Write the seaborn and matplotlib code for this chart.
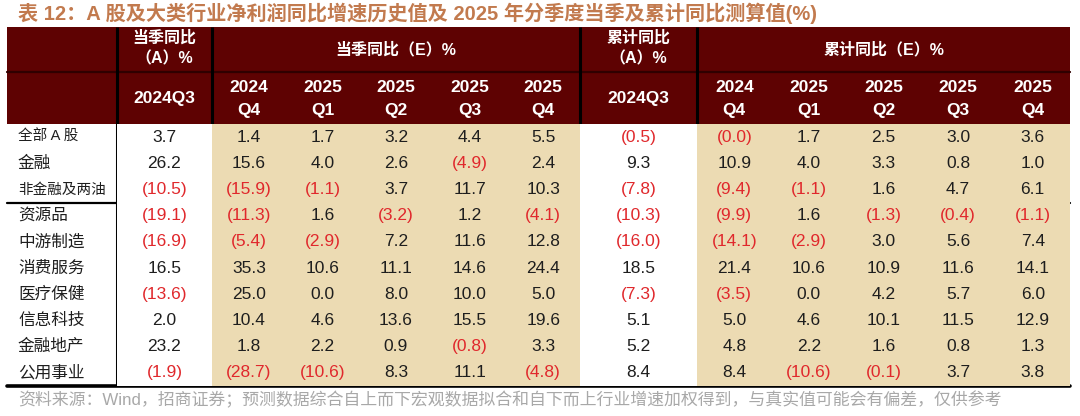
import numpy as np
import matplotlib
matplotlib.use("Agg")
import matplotlib.pyplot as plt
from matplotlib.colors import ListedColormap
from matplotlib.patches import Rectangle
import seaborn as sns

# ---- data ----
rows = ['全部 A 股', '金融', '非金融及两油', '资源品', '中游制造', '消费服务',
        '医疗保健', '信息科技', '金融地产', '公用事业']
quarters = [('2024', 'Q4'), ('2025', 'Q1'), ('2025', 'Q2'), ('2025', 'Q3'), ('2025', 'Q4')]

cur_a = [3.7, 26.2, -10.5, -19.1, -16.9, 16.5, -13.6, 2.0, 23.2, -1.9]
cur_e = [[1.4, 1.7, 3.2, 4.4, 5.5],
         [15.6, 4.0, 2.6, -4.9, 2.4],
         [-15.9, -1.1, 3.7, 11.7, 10.3],
         [-11.3, 1.6, -3.2, 1.2, -4.1],
         [-5.4, -2.9, 7.2, 11.6, 12.8],
         [35.3, 10.6, 11.1, 14.6, 24.4],
         [25.0, 0.0, 8.0, 10.0, 5.0],
         [10.4, 4.6, 13.6, 15.5, 19.6],
         [1.8, 2.2, 0.9, -0.8, 3.3],
         [-28.7, -10.6, 8.3, 11.1, -4.8]]
cum_a = [-0.5, 9.3, -7.8, -10.3, -16.0, 18.5, -7.3, 5.1, 5.2, 8.4]
cum_e = [[-0.0, 1.7, 2.5, 3.0, 3.6],
         [10.9, 4.0, 3.3, 0.8, 1.0],
         [-9.4, -1.1, 1.6, 4.7, 6.1],
         [-9.9, 1.6, -1.3, -0.4, -1.1],
         [-14.1, -2.9, 3.0, 5.6, 7.4],
         [21.4, 10.6, 10.9, 11.6, 14.1],
         [-3.5, 0.0, 4.2, 5.7, 6.0],
         [5.0, 4.6, 10.1, 11.5, 12.9],
         [4.8, 2.2, 1.6, 0.8, 1.3],
         [8.4, -10.6, -0.1, 3.7, 3.8]]

title = '表 12：A 股及大类行业净利润同比增速历史值及 2025 年分季度当季及累计同比测算值(%)'
source = '资料来源：Wind，招商证券；预测数据综合自上而下宏观数据拟合和自下而上行业增速加权得到，与真实值可能会有偏差，仅供参考'

# ---- style ----
sns.set_style('white')
plt.rcParams['font.family'] = ['Liberation Sans', 'Noto Sans CJK SC', 'DejaVu Sans']

MAROON = '#5E0202'
BEIGE = '#ECDBB3'
RED = '#E0282C'
DARK = '#1E1E1E'

W, H = 1080, 416
fig = plt.figure(figsize=(W / 100, H / 100), dpi=100)
fig.patch.set_facecolor('white')

# layout in pixels
L, R = 7, 1070
top, hmid, hbot, bot = 27, 72, 124, 386
xa1, xe1, xa2, xe2 = 117, 212, 580, 697

bg = fig.add_axes([0, 0, 1, 1])
bg.set_xlim(0, W)
bg.set_ylim(H, 0)
bg.axis('off')


def px_axes(x0, x1, y0, y1):
    return fig.add_axes([x0 / W, 1 - y1 / H, (x1 - x0) / W, (y1 - y0) / H])


def fmt(v):
    return '(%.1f)' % abs(v) if np.signbit(v) else '%.1f' % v


def block(x0, x1, vals, color):
    vals = np.array(vals, dtype=float)
    if vals.ndim == 1:
        vals = vals[:, None]
    labels = np.vectorize(fmt)(vals)
    ax = px_axes(x0, x1, hbot, bot)
    sns.heatmap(vals, ax=ax, cmap=ListedColormap([color]), cbar=False,
                annot=labels, fmt='', linewidths=0,
                xticklabels=False, yticklabels=False,
                annot_kws={'fontsize': 12.5})
    for t, v in zip(ax.texts, vals.flatten()):
        t.set_color(RED if np.signbit(v) else DARK)
    ax.set_xlabel('')
    ax.set_ylabel('')
    return ax


block(xa1, xe1, cur_a, 'white')
block(xe1, xa2, cur_e, BEIGE)
block(xa2, xe2, cum_a, 'white')
block(xe2, R, cum_e, BEIGE)

# header band
bg.add_patch(Rectangle((L, top), R - L, hbot - top, color=MAROON, lw=0))
bg.plot([L, R], [hmid, hmid], color='#300000', lw=1.6)
for x in (xa1, xe1, xa2, xe2):
    bg.plot([x, x], [top, bot], color='black', lw=2.2, solid_capstyle='butt')
bg.plot([L, R], [203, 203], color='black', lw=1.6)
bg.plot([L, R], [bot, bot], color='black', lw=2.6)

hd = dict(color='white', ha='center', va='center', fontweight='bold')
for xa, xe, xend, name in ((xa1, xe1, xa2, '当季同比'), (xa2, xe2, R, '累计同比')):
    cx = (xa + xe) / 2
    bg.text(cx, 38, name, fontsize=11.5, **hd)
    bg.text(cx, 59, '（A）%', fontsize=11.5, **hd)
    bg.text(cx, 98, '2024Q3', fontsize=12.5, **hd)
    bg.text((xe + xend) / 2, 50, name + '（E）%', fontsize=11.5, **hd)
    cw = (xend - xe) / len(quarters)
    for i, (yr, q) in enumerate(quarters):
        qx = xe + cw * (i + 0.5)
        bg.text(qx, 87, yr, fontsize=12.5, **hd)
        bg.text(qx, 110, q, fontsize=12.5, **hd)

# row labels
rh = (bot - hbot) / len(rows)
for i, name in enumerate(rows):
    fs = 10.5 if len(name) > 5 else 12
    bg.text(18, hbot + rh * (i + 0.5), name, fontsize=fs, color=DARK,
            ha='left', va='center')

bg.text(18, 13, title, fontsize=14.5, fontweight='bold', color='#C27A4E',
        ha='left', va='center')
bg.text(18, 400, source, fontsize=12.2, color='#A8A8A8', ha='left', va='center')

fig.savefig('out.png', dpi=100)
